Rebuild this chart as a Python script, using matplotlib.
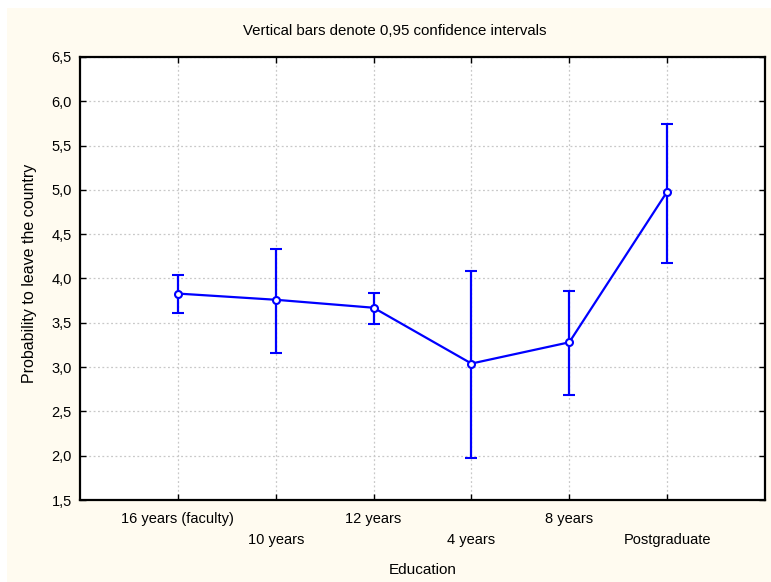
import numpy as np
import matplotlib.pyplot as plt
from matplotlib.ticker import FuncFormatter

# mean probability per education group with 0.95 CI bounds
groups = ["16 years (faculty)", "10 years", "12 years", "4 years", "8 years", "Postgraduate"]
means = [3.83, 3.76, 3.67, 3.04, 3.28, 4.98]
ci_low = [3.61, 3.16, 3.49, 1.97, 2.69, 4.18]
ci_high = [4.04, 4.33, 3.84, 4.09, 3.86, 5.74]

plt.rcParams['font.family'] = ['Liberation Sans', 'DejaVu Sans']

fig = plt.figure(figsize=(7.71, 5.82), dpi=100)
fig.patch.set_facecolor('white')
# cream panel behind the chart
fig.patches.append(plt.Rectangle((7 / 771, 0), 1, 1 - 8 / 582, transform=fig.transFigure,
                                 facecolor='#FFFBF0', edgecolor='none', zorder=-10))

ax = fig.add_axes([80 / 771, 1 - 500 / 582, (765 - 80) / 771, (500 - 57) / 582])
ax.set_facecolor('white')

x = np.arange(len(groups))
m = np.array(means)
yerr = [m - np.array(ci_low), np.array(ci_high) - m]
ax.errorbar(x, m, yerr=yerr, color='#0000FF', lw=1.6, elinewidth=1.6, capsize=4.5,
            capthick=1.6, marker='o', ms=5, mfc='white', mec='#0000FF', mew=1.5, zorder=3)

ax.set_xlim(-1, 6)
ax.set_ylim(1.5, 6.5)
ax.set_xticks(x)
ax.set_xticklabels(groups)
ax.set_yticks(np.arange(1.5, 6.51, 0.5))
ax.yaxis.set_major_formatter(FuncFormatter(lambda v, p: f"{v:.1f}".replace('.', ',')))

ax.tick_params(direction='in', length=4, width=1, top=True, right=True,
               labelsize=10.5, colors='black')
ax.tick_params(axis='x', pad=9)
ax.tick_params(axis='y', pad=6)
# stagger the category labels on two rows
for i, t in enumerate(ax.xaxis.get_major_ticks()):
    if i % 2 == 1:
        t.set_pad(23.5)

for s in ax.spines.values():
    s.set_linewidth(1.6)
    s.set_color('black')

ax.grid(True, color='#C8C8C8', linestyle=(0, (1.5, 2)), linewidth=0.9)
ax.set_axisbelow(True)

fig.text(423 / 771, 1 - 570 / 582, "Education", ha='center', va='center', fontsize=11)
fig.text(30 / 771, 1 - 273 / 582, "Probability to leave the country", ha='center',
         va='center', rotation=90, fontsize=11.5)
fig.text(395 / 771, 1 - 31 / 582, "Vertical bars denote 0,95 confidence intervals",
         ha='center', va='center', fontsize=10.8)

fig.savefig('out.png', dpi=100, facecolor=fig.get_facecolor())
